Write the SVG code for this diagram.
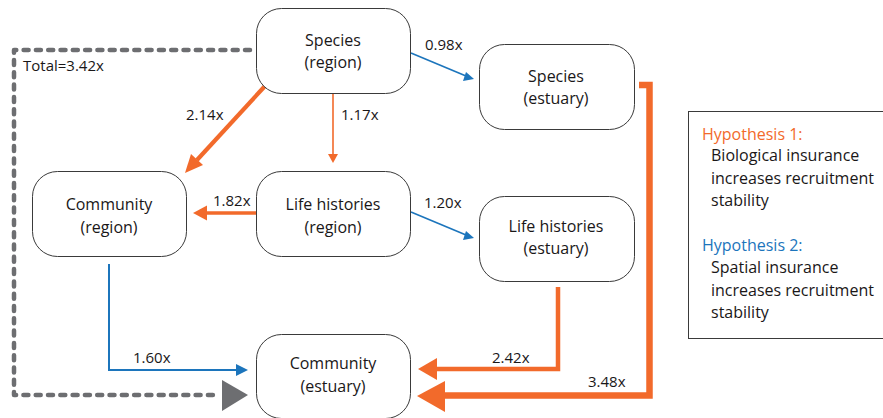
<svg xmlns="http://www.w3.org/2000/svg" width="883" height="418" viewBox="0 0 883 418">
<defs>
<style>
.node rect{fill:#fff;stroke:#3a3a3a;stroke-width:1}
text{font-family:"Open Sans","Liberation Sans",sans-serif;fill:#1a1718}
.nt{font-size:16px;text-anchor:middle}
.lb{font-size:15px}
.lg{font-size:16px}
.or{stroke:#f26a2b;fill:none}
.bl{stroke:#1c75bc;fill:none}
.orf{fill:#f26a2b}
.blf{fill:#1c75bc}
.h1{fill:#f26a2b}
.h2{fill:#1c75bc}
</style>
</defs>
<rect width="883" height="418" fill="#fff"/>
<g id="connectors">
<polyline points="250,50 14,50 14,395 220,395" fill="none" stroke="#6d6e71" stroke-width="4.5" stroke-dasharray="5 7.3" stroke-linecap="round" stroke-linejoin="round"/>
<polygon points="222,380 248,395 222,411" fill="#6d6e71"/>
<line class="bl" x1="411" y1="53" x2="466" y2="76" stroke-width="1.6"/>
<polygon class="blf" points="474,79 463,81 466,72"/>
<line class="bl" x1="411" y1="212" x2="466" y2="235" stroke-width="1.6"/>
<polygon class="blf" points="474,238 463,240 466,231"/>
<polyline class="bl" points="109,264 109,370 238,370" stroke-width="2"/>
<polygon class="blf" points="248,370 236,364 236,376"/>
<line class="or" x1="333" y1="93" x2="333" y2="155" stroke-width="1.6"/>
<polygon class="orf" points="328,154 338,154 333,163"/>
<line class="or" x1="256" y1="213" x2="205" y2="213" stroke-width="3.5"/>
<polygon class="orf" points="193,213 207,205.5 207,220.5"/>
<line class="or" x1="265" y1="86" x2="197" y2="160" stroke-width="4.2"/>
<polygon class="orf" points="185,173 191,154 203,165"/>
<polyline class="or" points="558,287 558,369 433,369" stroke-width="4.5"/>
<polygon class="orf" points="418,369 437,358 437,380"/>
<polyline class="or" points="639,85 649.5,85 649.5,395.5 440,395.5" stroke-width="6.5"/>
<polygon class="orf" points="417,396 445,381 445,412"/>
</g>
<g id="labels">
<text class="lb" x="23" y="71">Total=3.42x</text>
<text class="lb" x="425" y="50">0.98x</text>
<text class="lb" x="186" y="120">2.14x</text>
<text class="lb" x="341" y="120">1.17x</text>
<text class="lb" x="213" y="206">1.82x</text>
<text class="lb" x="424" y="208">1.20x</text>
<text class="lb" x="133" y="363">1.60x</text>
<text class="lb" x="492" y="363">2.42x</text>
<text class="lb" x="588" y="387">3.48x</text>
</g>
<g id="species-region" class="node"><rect x="256.5" y="8.5" width="154" height="85" rx="25"/><text class="nt" x="333" y="46">Species</text><text class="nt" x="333" y="68">(region)</text></g>
<g id="species-estuary" class="node"><rect x="479.5" y="44.5" width="155" height="85" rx="25"/><text class="nt" x="556" y="82">Species</text><text class="nt" x="556" y="104">(estuary)</text></g>
<g id="community-region" class="node"><rect x="32.5" y="171.5" width="154" height="85" rx="25"/><text class="nt" x="109" y="210">Community</text><text class="nt" x="109" y="233">(region)</text></g>
<g id="lifehist-region" class="node"><rect x="256.5" y="171.5" width="154" height="85" rx="25"/><text class="nt" x="333" y="210">Life histories</text><text class="nt" x="333" y="233">(region)</text></g>
<g id="lifehist-estuary" class="node"><rect x="479.5" y="196.5" width="155" height="85" rx="25"/><text class="nt" x="556" y="232">Life histories</text><text class="nt" x="556" y="254">(estuary)</text></g>
<g id="community-estuary" class="node"><rect x="256.5" y="334.5" width="154" height="84" rx="25"/><text class="nt" x="333" y="369">Community</text><text class="nt" x="333" y="392">(estuary)</text></g>
<g id="legend">
<rect x="688.5" y="111.5" width="210" height="227" fill="#fff" stroke="#3a3a3a" stroke-width="1"/>
<text class="lg h1" x="702" y="140">Hypothesis 1:</text>
<text class="lg" x="711" y="161">Biological insurance</text>
<text class="lg" x="711" y="184">increases recruitment</text>
<text class="lg" x="711" y="206">stability</text>
<text class="lg h2" x="702" y="251">Hypothesis 2:</text>
<text class="lg" x="711" y="273">Spatial insurance</text>
<text class="lg" x="711" y="296">increases recruitment</text>
<text class="lg" x="711" y="318">stability</text>
</g>
</svg>
